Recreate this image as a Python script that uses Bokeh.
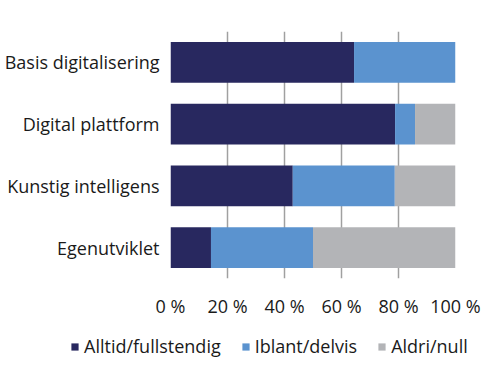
from bokeh.plotting import figure
from bokeh.models import Range1d, FactorRange, Legend, LegendItem, FixedTicker
from bokeh.embed import file_html
from bokeh.resources import INLINE

categories = ["Basis digitalisering", "Digital plattform", "Kunstig intelligens", "Egenutviklet"]
alltid = [64.4, 78.8, 42.9, 14.2]
iblant = [35.6, 7.0, 35.8, 35.8]
aldri = [0.0, 14.2, 21.3, 50.0]
series_names = ["Alltid/fullstendig", "Iblant/delvis", "Aldri/null"]
colors = ["#28285f", "#5b93cf", "#b3b4b7"]
tick_values = [0, 20, 40, 60, 80, 100]
tick_labels = ["0 %", "20 %", "40 %", "60 %", "80 %", "100 %"]

FONT = "Open Sans"
FS = "18px"
TXT = "#1a1a1a"

p = figure(width=492, height=320, output_backend="svg", toolbar_location=None,
           x_range=Range1d(0, 100), y_range=FactorRange(factors=list(reversed(categories))),
           min_border_left=170, min_border_right=37, min_border_top=31, min_border_bottom=40)
p.outline_line_color = None

data = dict(cat=categories, a=alltid, b=iblant, c=aldri)
renderers = p.hbar_stack(["a", "b", "c"], y="cat", height=0.66, color=colors, source=data,
                         line_width=0)

p.xgrid.ticker = FixedTicker(ticks=tick_values)
p.xgrid.grid_line_color = "#a0a0a0"
p.xgrid.grid_line_width = 1.5
p.ygrid.grid_line_color = None

p.xaxis.ticker = FixedTicker(ticks=tick_values)
p.xaxis.major_label_overrides = {v: l for v, l in zip(tick_values, tick_labels)}
for ax in (p.xaxis[0], p.yaxis[0]):
    ax.axis_line_color = None
    ax.major_tick_line_color = None
    ax.minor_tick_line_color = None
    ax.major_label_text_font = FONT
    ax.major_label_text_font_size = FS
    ax.major_label_text_color = TXT
p.xaxis.major_label_standoff = 9
p.yaxis.major_label_standoff = 5

# separate legend figure (own root, so its frame spans the full width)
lg = figure(width=492, height=60, output_backend="svg", toolbar_location=None,
            x_range=Range1d(0, 1), y_range=Range1d(0, 1),
            min_border_left=0, min_border_right=0, min_border_top=0, min_border_bottom=0)
lg.axis.visible = False
lg.grid.grid_line_color = None
lg.outline_line_color = None
dummy = lg.hbar_stack(["a", "b", "c"], y="y", height=0.1, color=colors,
                      source=dict(y=[-5.0], a=[0.0], b=[0.0], c=[0.0]), line_width=0)
legend = Legend(items=[LegendItem(label=n, renderers=[r]) for n, r in zip(series_names, dummy)],
                orientation="horizontal", location=(70, 22),
                label_text_font=FONT, label_text_font_size=FS, label_text_color=TXT,
                glyph_width=9, glyph_height=9, label_standoff=5, spacing=20,
                border_line_color=None, background_fill_alpha=0, padding=4, margin=0)
lg.add_layout(legend, "center")

open("out.html", "w").write(file_html([p, lg], INLINE))
